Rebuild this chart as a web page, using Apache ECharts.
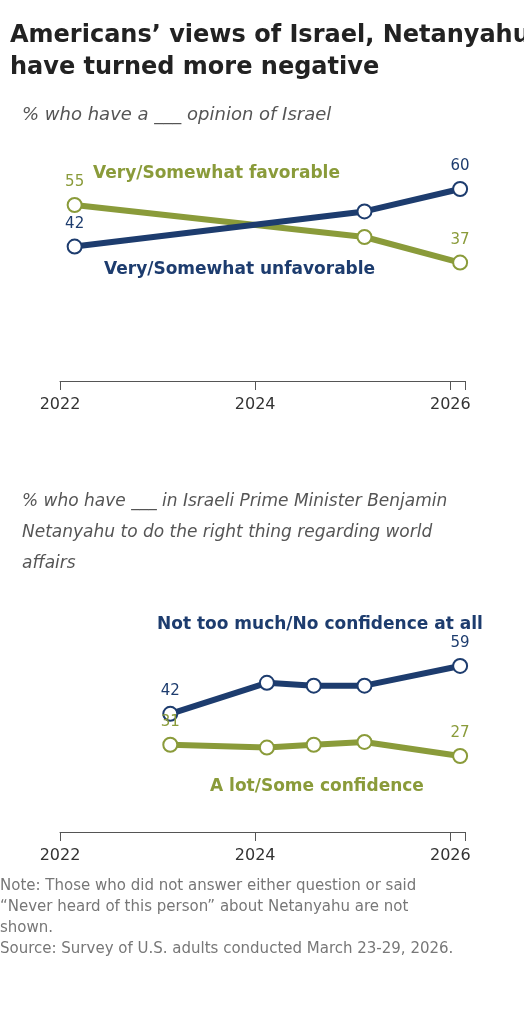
<!DOCTYPE html>
<html>
<head>
<meta charset="utf-8">
<script src="https://cdn.jsdelivr.net/npm/echarts@6/dist/echarts.min.js"></script>
<style>
  body { margin: 0; background: #fff; }
  #chart { width: 524px; height: 1024px; }
</style>
</head>
<body>
<div id="chart"></div>
<script>
// survey dates as decimal years
var israelDates = [2022.15, 2025.12, 2026.1];
var israelFavorable = [55, 45, 37];
var israelUnfavorable = [42, 53, 60];

var netDates = [2023.13, 2024.12, 2024.6, 2025.12, 2026.1];
var netNoConfidence = [42, 53, 52, 52, 59];
var netConfidence = [31, 30, 31, 32, 27];

var tickYears = [2022, 2024, 2026];

var BLUE = '#1d3c6e';
var GREEN = '#8a9b3a';
var FONT = '"DejaVu Sans", sans-serif';

var chart = echarts.init(document.getElementById('chart'));

function pairs(xs, ys) {
  return xs.map(function (x, i) { return [x, ys[i]]; });
}

function makeSeries(xs, ys, color, grid, z) {
  var data = pairs(xs, ys).map(function (p, i) {
    var item = { value: p };
    if (i === 0 || i === xs.length - 1) {
      item.label = { show: true, position: 'top', color: color, fontSize: 15, fontFamily: FONT, distance: 7 };
    }
    return item;
  });
  return {
    type: 'line',
    xAxisIndex: grid, yAxisIndex: grid,
    data: data,
    symbol: 'circle', symbolSize: 14,
    lineStyle: { color: color, width: 6 },
    itemStyle: { color: '#fff', borderColor: color, borderWidth: 2 },
    label: { show: false, formatter: function (p) { return p.value[1]; } },
    z: z
  };
}

function xAxisFor(grid) {
  return {
    type: 'value', gridIndex: grid,
    min: 2022, max: 2026.15, interval: 2,
    axisLine: { show: true, lineStyle: { color: '#555', width: 1 } },
    axisTick: { show: true, length: 9, lineStyle: { color: '#555' } },
    splitLine: { show: false },
    axisLabel: {
      color: '#333', fontSize: 16, fontFamily: FONT, margin: 16,
      formatter: function (v) { return tickYears.indexOf(v) >= 0 ? String(v) : ''; }
    }
  };
}

function yAxisFor(grid) {
  return { type: 'value', gridIndex: grid, min: 0, max: 70, show: false, splitLine: { show: false } };
}

function text(x, y, str, style) {
  return { type: 'text', left: x, top: y, style: Object.assign({ text: str, fontFamily: FONT }, style) };
}

chart.setOption({
  animation: false,
  grid: [
    { left: 60, right: 59, top: 157, height: 224 },
    { left: 60, right: 59, top: 635, height: 197 }
  ],
  xAxis: [xAxisFor(0), xAxisFor(1)],
  yAxis: [yAxisFor(0), yAxisFor(1)],
  series: [
    makeSeries(israelDates, israelFavorable, GREEN, 0, 3),
    makeSeries(israelDates, israelUnfavorable, BLUE, 0, 4),
    makeSeries(netDates, netNoConfidence, BLUE, 1, 3),
    makeSeries(netDates, netConfidence, GREEN, 1, 4)
  ],
  graphic: [
    text(10, 20, 'Americans\u2019 views of Israel, Netanyahu\nhave turned more negative',
      { fill: '#222', fontSize: 24, fontWeight: 'bold', lineHeight: 32 }),
    text(22, 106, '% who have a ___ opinion of Israel',
      { fill: '#555', fontSize: 18, fontStyle: 'italic' }),
    text(93, 165, 'Very/Somewhat favorable', { fill: GREEN, fontSize: 17, fontWeight: 'bold' }),
    text(104, 261, 'Very/Somewhat unfavorable', { fill: BLUE, fontSize: 17, fontWeight: 'bold' }),
    text(22, 486, '% who have ___ in Israeli Prime Minister Benjamin\nNetanyahu to do the right thing regarding world\naffairs',
      { fill: '#555', fontSize: 17, fontStyle: 'italic', lineHeight: 31 }),
    text(157, 616, 'Not too much/No confidence at all', { fill: BLUE, fontSize: 17, fontWeight: 'bold' }),
    text(210, 778, 'A lot/Some confidence', { fill: GREEN, fontSize: 17, fontWeight: 'bold' }),
    text(0, 876, 'Note: Those who did not answer either question or said\n\u201cNever heard of this person\u201d about Netanyahu are not\nshown.\nSource: Survey of U.S. adults conducted March 23-29, 2026.',
      { fill: '#777', fontSize: 15, lineHeight: 21 })
  ]
});
</script>
</body>
</html>
